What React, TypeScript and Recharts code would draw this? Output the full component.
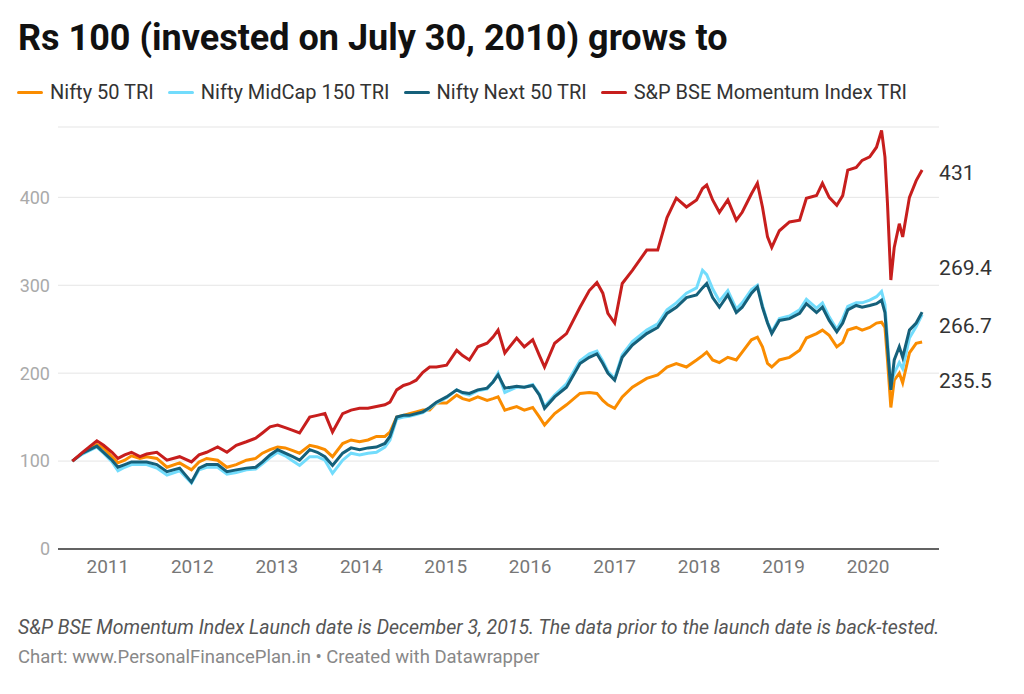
import { CartesianGrid, Line, LineChart, ReferenceLine, XAxis, YAxis } from 'recharts'

// dates as fractional years
const dates = [
  2010.58, 2010.7, 2010.87, 2010.95, 2011.05, 2011.12, 2011.2, 2011.28, 2011.38, 2011.46,
  2011.58, 2011.7, 2011.85, 2011.99, 2012.08, 2012.17, 2012.3, 2012.41, 2012.52, 2012.64,
  2012.75, 2012.83, 2012.92, 2013.01, 2013.1, 2013.19, 2013.27, 2013.39, 2013.48, 2013.57,
  2013.66, 2013.78, 2013.88, 2013.98, 2014.08, 2014.18, 2014.28, 2014.34, 2014.42, 2014.5,
  2014.57, 2014.65, 2014.73, 2014.81, 2014.89, 2015.01, 2015.13, 2015.2, 2015.28, 2015.38,
  2015.49, 2015.56, 2015.62, 2015.7, 2015.84, 2015.93, 2016.03, 2016.11, 2016.17, 2016.29,
  2016.43, 2016.59, 2016.7, 2016.79, 2016.86, 2016.92, 2017.0, 2017.09, 2017.21, 2017.38,
  2017.51, 2017.62, 2017.73, 2017.85, 2017.97, 2018.04, 2018.09, 2018.16, 2018.24, 2018.34,
  2018.44, 2018.51, 2018.62, 2018.69, 2018.75, 2018.81, 2018.86, 2018.95, 2019.07, 2019.19,
  2019.27, 2019.39, 2019.46, 2019.54, 2019.63, 2019.7, 2019.76, 2019.86, 2019.93, 2020.02,
  2020.1, 2020.16, 2020.2, 2020.23, 2020.27, 2020.31, 2020.37, 2020.41, 2020.49, 2020.57,
  2020.64,
]

const nifty50 = [
  100, 109, 119, 115, 105, 98, 101, 106, 103, 105,
  103, 93, 98, 90, 99, 103, 101, 93, 96, 101,
  103, 109, 113, 116, 115, 112, 109, 118, 116, 113,
  105, 120, 124, 122, 124, 128, 128, 133, 150, 152,
  154, 156, 158, 158, 166, 166, 175, 171, 169, 173,
  169, 171, 173, 158, 162, 158, 161, 150, 141, 154,
  164, 177, 178, 177, 169, 164, 160, 173, 184, 194,
  198, 207, 211, 207, 215, 220, 224, 215, 212, 218,
  215, 224, 238, 241, 230, 211, 207, 215, 218, 226,
  240, 245, 249, 243, 230, 235, 249, 252, 249, 252,
  257, 258, 252, 215, 161, 192, 200, 189, 223, 234,
  235.5,
]

const midcap150 = [
  100, 108, 116, 109, 99, 89, 93, 96, 96, 96,
  92, 84, 89, 75, 90, 93, 93, 85, 87, 90,
  91, 97, 104, 110, 106, 100, 95, 105, 105, 101,
  86, 101, 109, 107, 109, 110, 116, 124, 148, 150,
  151, 153, 155, 160, 166, 172, 181, 177, 175, 180,
  182, 190, 200, 178, 184, 184, 187, 176, 162, 175,
  188, 214, 222, 225, 214, 202, 194, 221, 236, 249,
  256, 272, 280, 291, 297, 317, 312, 296, 282, 294,
  273, 280, 295, 300, 277, 258, 247, 262, 265, 272,
  284, 274, 280, 264, 250, 262, 276, 280, 280, 283,
  287, 293, 278, 238, 186, 200, 212, 205, 240, 253,
  266.7,
]

const next50 = [
  100, 109, 117, 110, 101, 93, 96, 99, 99, 99,
  96, 88, 92, 76, 92, 96, 96, 88, 90, 92,
  93, 99, 107, 113, 109, 105, 101, 113, 110, 105,
  95, 109, 115, 113, 115, 116, 120, 128, 150, 152,
  152, 154, 156, 161, 167, 173, 181, 178, 177, 181,
  183, 190, 198, 183, 185, 184, 186, 175, 160, 173,
  184, 211, 218, 222, 211, 200, 192, 218, 232, 245,
  252, 268, 275, 286, 289, 297, 302, 286, 275, 289,
  269, 275, 291, 298, 275, 257, 245, 260, 262, 268,
  279, 269, 275, 260, 247, 257, 272, 277, 275, 277,
  279, 283, 269, 230, 181, 215, 230, 218, 249, 257,
  269.4,
]

const momentum = [
  100, 110, 123, 118, 110, 103, 107, 110, 105, 108,
  110, 101, 105, 99, 107, 110, 116, 110, 118, 122,
  126, 132, 139, 141, 138, 135, 132, 150, 152, 154,
  133, 154, 158, 160, 160, 162, 164, 167, 181, 186,
  188, 192, 201, 207, 207, 209, 226, 220, 215, 230,
  234, 241, 249, 223, 240, 230, 238, 220, 207, 234,
  245, 275, 294, 303, 291, 268, 257, 302, 317, 340,
  340, 377, 399, 389, 397, 410, 414, 397, 383, 397,
  374, 383, 404, 416, 389, 355, 343, 362, 372, 374,
  399, 402, 416, 400, 391, 402, 431, 434, 442, 446,
  457, 476, 446, 393, 306, 343, 370, 355, 400, 419,
  431,
]

const yearTicks = [2011, 2012, 2013, 2014, 2015, 2016, 2017, 2018, 2019, 2020]
const valueTicks = [0, 100, 200, 300, 400]

const SERIES = [
  { key: 'nifty50', label: 'Nifty 50 TRI', color: '#fa8c00', values: nifty50, end: '235.5', dy: 39 },
  { key: 'midcap150', label: 'Nifty MidCap 150 TRI', color: '#72dcfc', values: midcap150, end: '266.7', dy: 11 },
  { key: 'next50', label: 'Nifty Next 50 TRI', color: '#15607a', values: next50, end: '269.4', dy: -44 },
  { key: 'momentum', label: 'S&P BSE Momentum Index TRI', color: '#c71e1d', values: momentum, end: '431', dy: 3 },
]

const data = dates.map((t, i) => {
  const row: Record<string, number> = { t }
  SERIES.forEach((s) => (row[s.key] = s.values[i]))
  return row
})

const last = dates.length - 1

// value label at the end of each line, like datawrapper does
function endDot(text: string, dy: number) {
  return (p: any) => {
    if (p.index !== last) return <g key={p.index} />
    return (
      <text key={p.index} x={p.cx + 17} y={p.cy + dy} fontSize={21} fill="#333" dominantBaseline="central">
        {text}
      </text>
    )
  }
}

export default function App() {
  return (
    <div
      style={{
        position: 'absolute',
        left: 0,
        top: 0,
        width: 1024,
        height: 694,
        background: '#fff',
        fontFamily: 'Roboto, sans-serif',
        color: '#333',
      }}
    >
      <div style={{ position: 'absolute', left: 18, top: 20, fontSize: 36, fontWeight: 700, lineHeight: 1, color: '#111' }}>
        Rs 100 (invested on July 30, 2010) grows to
      </div>

      <div style={{ position: 'absolute', left: 17, top: 82, display: 'flex', fontSize: 20, lineHeight: 1 }}>
        {SERIES.map((s) => (
          <div key={s.key} style={{ display: 'flex', alignItems: 'center', marginRight: 14 }}>
            <span style={{ width: 26, height: 3, borderRadius: 2, background: s.color, marginRight: 7 }} />
            {s.label}
          </div>
        ))}
      </div>

      <div style={{ position: 'absolute', left: 0, top: 0 }}>
        <LineChart width={1024} height={600} data={data} margin={{ top: 127, right: 85, bottom: 21, left: 8 }}>
          <CartesianGrid horizontal vertical={false} stroke="#e5e5e5" />
          <XAxis
            dataKey="t"
            type="number"
            domain={[2010.41, 2020.84]}
            ticks={yearTicks}
            tickFormatter={(v: number) => String(v)}
            axisLine={false}
            tickLine={false}
            tickMargin={5}
            height={30}
            tick={{ fill: '#777', fontSize: 19 }}
          />
          <YAxis
            type="number"
            domain={[0, 480]}
            ticks={valueTicks}
            axisLine={false}
            tickLine={false}
            width={50}
            tick={{ fill: '#aaa', fontSize: 18 }}
          />
          <ReferenceLine y={0} stroke="#333" strokeWidth={1.5} />
          {SERIES.map((s) => (
            <Line
              key={s.key}
              type="linear"
              dataKey={s.key}
              stroke={s.color}
              strokeWidth={3}
              dot={endDot(s.end, s.dy)}
              activeDot={false}
              isAnimationActive={false}
            />
          ))}
        </LineChart>
      </div>

      <div style={{ position: 'absolute', left: 18, top: 618, fontSize: 19.5, fontStyle: 'italic', color: '#555', lineHeight: 1 }}>
        S&amp;P BSE Momentum Index Launch date is December 3, 2015. The data prior to the launch date is back-tested.
      </div>
      <div style={{ position: 'absolute', left: 18, top: 648, fontSize: 18.5, color: '#888', lineHeight: 1 }}>
        Chart: www.PersonalFinancePlan.in • Created with Datawrapper
      </div>
    </div>
  )
}
